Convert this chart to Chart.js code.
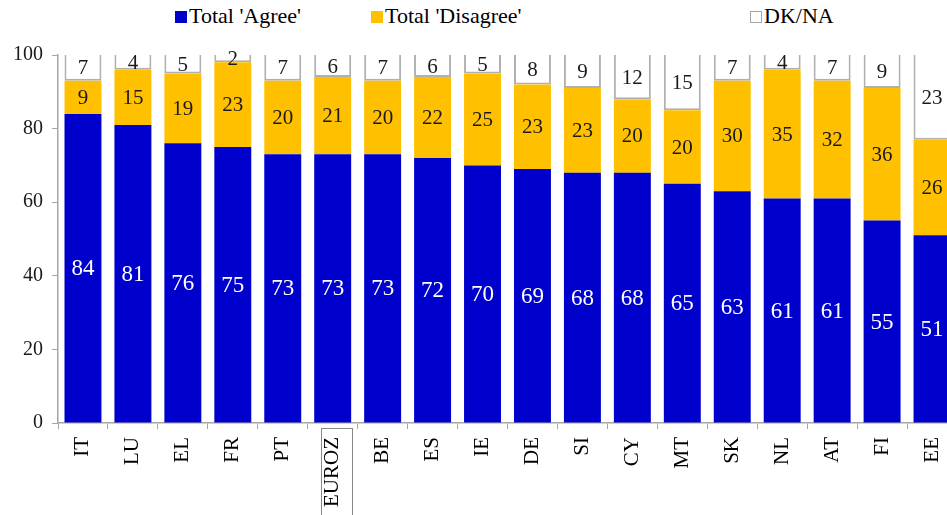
<!DOCTYPE html>
<html>
<head>
<meta charset="utf-8">
<script src="https://cdn.jsdelivr.net/npm/chart.js@4/dist/chart.umd.min.js"></script>
<style>
  body { margin: 0; overflow: hidden; background: #fff; width: 947px; height: 515px; position: relative; }
  #leyenda span.item { position: absolute; top: 3px; font-size: 22px; font-family: "Liberation Serif", serif; color: #000; white-space: nowrap; }
  #leyenda span.caja { display: inline-block; width: 12px; height: 12px; margin-right: 2px; vertical-align: 0px; box-sizing: border-box; }
  canvas { position: absolute; left: 0; top: 0; }
</style>
</head>
<body>
<div id="leyenda">
  <span class="item" style="left:175px"><span class="caja" style="background:#0000CC"></span>Total 'Agree'</span>
  <span class="item" style="left:371px"><span class="caja" style="background:#FFC000"></span>Total 'Disagree'</span>
  <span class="item" style="left:750px"><span class="caja" style="background:#fff;border:1px solid #A6A6A6"></span>DK/NA</span>
</div>
<canvas id="grafica" width="957" height="515"></canvas>
<script>
const PAISES = ["IT","LU","EL","FR","PT","EUROZ","BE","ES","IE","DE","SI","CY","MT","SK","NL","AT","FI","EE"];
const ACUERDO = [84,81,76,75,73,73,73,72,70,69,68,68,65,63,61,61,55,51];
const DESACUERDO = [9,15,19,23,20,21,20,22,25,23,23,20,20,30,35,32,36,26];
const NS_NC = [7,4,5,2,7,6,7,6,5,8,9,12,15,7,4,7,9,23];
const MARCAS_Y = [0,20,40,60,80,100];

const GRIS = "#A6A6A6";
const SERIF = "'Liberation Serif', serif";

// numeros dentro de cada tramo de la barra
const etiquetas = {
    id: "etiquetas",
    afterDatasetsDraw(chart) {
        const ctx = chart.ctx;
        ctx.save();
        ctx.textAlign = "center";
        ctx.textBaseline = "middle";
        chart.data.datasets.forEach((ds, i) => {
            const meta = chart.getDatasetMeta(i);
            meta.data.forEach((bar, j) => {
                const p = bar.getProps(["x","y","base"], true);
                ctx.fillStyle = i === 0 ? "#fff" : "#1a1a1a";
                ctx.font = (i === 0 ? "23px " : "21px ") + SERIF;
                ctx.fillText(ds.data[j], p.x, (p.y + p.base) / 2 + 1);
            });
        });
        ctx.restore();
    }
};

// recuadro alrededor de la media de la zona euro
const recuadro = {
    id: "recuadro",
    afterDraw(chart) {
        const x = chart.scales.x;
        const idx = PAISES.indexOf("EUROZ");
        const cx = x.getPixelForValue(idx) + 3;
        const ctx = chart.ctx;
        ctx.save();
        ctx.strokeStyle = "#888";
        ctx.lineWidth = 1;
        ctx.strokeRect(Math.round(cx - 15) + 0.5, x.top + 5.5, 31, 100);
        ctx.restore();
    }
};

const ctx = document.getElementById("grafica").getContext("2d");
const grafica = new Chart(ctx, {
    type: "bar",
    data: {
        labels: PAISES,
        datasets: [
            { label: "Total 'Agree'", data: ACUERDO, backgroundColor: "#0000CC", borderWidth: 0 },
            { label: "Total 'Disagree'", data: DESACUERDO, backgroundColor: "#FFC000", borderWidth: 0 },
            { label: "DK/NA", data: NS_NC, backgroundColor: "#fff", borderColor: "#B0B0B0", borderWidth: 2, borderSkipped: "end" }
        ]
    },
    options: {
        responsive: false,
        animation: false,
        layout: { padding: { top: 55, left: 0, right: 0, bottom: 0 } },
        datasets: { bar: { barPercentage: 0.74, categoryPercentage: 1 } },
        scales: {
            x: {
                stacked: true,
                afterFit: s => { s.height = 92; s.paddingLeft = 0; s.paddingRight = 0; },
                grid: { offset: true, drawOnChartArea: false, tickLength: 6, color: GRIS },
                border: { display: true, color: GRIS, width: 1.5 },
                ticks: { minRotation: 90, maxRotation: 90, padding: 8, color: "#000", font: { family: SERIF, size: 21 } }
            },
            y: {
                stacked: true,
                min: 0,
                max: 100,
                afterFit: s => { s.width = 58; },
                afterBuildTicks: s => { s.ticks = MARCAS_Y.map(v => ({ value: v })); },
                grid: { drawOnChartArea: false, tickLength: 6, color: GRIS },
                border: { display: true, color: GRIS, width: 1.5 },
                ticks: { padding: 9, color: "#1a1a1a", font: { family: SERIF, size: 20 } }
            }
        },
        plugins: {
            legend: { display: false },
            tooltip: { enabled: false }
        }
    },
    plugins: [etiquetas, recuadro]
});
</script>
</body>
</html>
